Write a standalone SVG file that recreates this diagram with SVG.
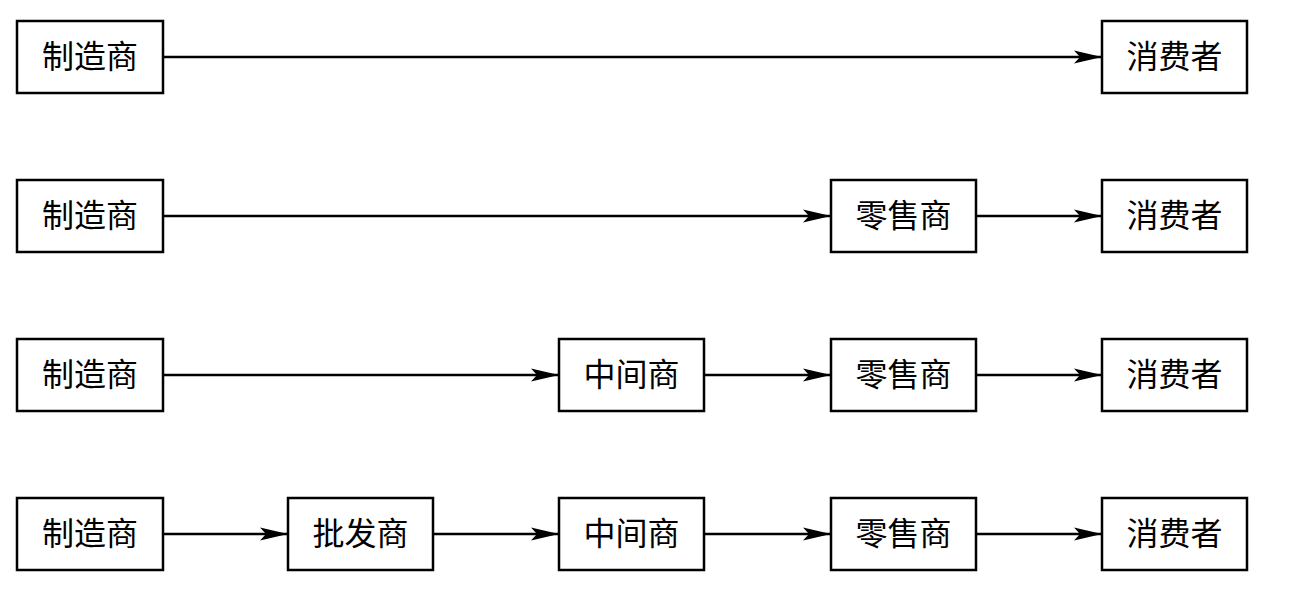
<svg xmlns="http://www.w3.org/2000/svg" width="1301" height="605" viewBox="0 0 1301 605">
<defs>
<marker id="ah" markerUnits="userSpaceOnUse" markerWidth="30" markerHeight="16" refX="28" refY="7" orient="auto" viewBox="0 0 30 14">
<path d="M0,0.5 L28,7 L0,13.5 L6,7 Z" fill="#000"/>
</marker>
<style>
.box{fill:#fff;stroke:#000;stroke-width:2.5}
.t{font-family:"Liberation Serif","Noto Sans CJK SC",serif;font-size:32px;fill:#000;text-anchor:middle;dominant-baseline:central}
.c{stroke:#000;stroke-width:2.4;fill:none;marker-end:url(#ah)}
</style>
</defs>
<g id="connectors">
<line class="c" x1="163" y1="57" x2="1102" y2="57"/>
<line class="c" x1="163" y1="216" x2="831" y2="216"/>
<line class="c" x1="976" y1="216" x2="1102" y2="216"/>
<line class="c" x1="163" y1="375" x2="559" y2="375"/>
<line class="c" x1="704" y1="375" x2="831" y2="375"/>
<line class="c" x1="976" y1="375" x2="1102" y2="375"/>
<line class="c" x1="163" y1="534" x2="288" y2="534"/>
<line class="c" x1="433" y1="534" x2="559" y2="534"/>
<line class="c" x1="704" y1="534" x2="831" y2="534"/>
<line class="c" x1="976" y1="534" x2="1102" y2="534"/>
</g>
<g id="r1-manufacturer"><rect class="box" x="17" y="21" width="146" height="72"/><text class="t" x="90" y="57">制造商</text></g>
<g id="r1-consumer"><rect class="box" x="1102" y="21" width="145" height="72"/><text class="t" x="1174.5" y="57">消费者</text></g>
<g id="r2-manufacturer"><rect class="box" x="17" y="180" width="146" height="72"/><text class="t" x="90" y="216">制造商</text></g>
<g id="r2-retailer"><rect class="box" x="831" y="180" width="145" height="72"/><text class="t" x="903.5" y="216">零售商</text></g>
<g id="r2-consumer"><rect class="box" x="1102" y="180" width="145" height="72"/><text class="t" x="1174.5" y="216">消费者</text></g>
<g id="r3-manufacturer"><rect class="box" x="17" y="339" width="146" height="72"/><text class="t" x="90" y="375">制造商</text></g>
<g id="r3-middleman"><rect class="box" x="559" y="339" width="145" height="72"/><text class="t" x="631.5" y="375">中间商</text></g>
<g id="r3-retailer"><rect class="box" x="831" y="339" width="145" height="72"/><text class="t" x="903.5" y="375">零售商</text></g>
<g id="r3-consumer"><rect class="box" x="1102" y="339" width="145" height="72"/><text class="t" x="1174.5" y="375">消费者</text></g>
<g id="r4-manufacturer"><rect class="box" x="17" y="498" width="146" height="72"/><text class="t" x="90" y="534">制造商</text></g>
<g id="r4-wholesaler"><rect class="box" x="288" y="498" width="145" height="72"/><text class="t" x="360.5" y="534">批发商</text></g>
<g id="r4-middleman"><rect class="box" x="559" y="498" width="145" height="72"/><text class="t" x="631.5" y="534">中间商</text></g>
<g id="r4-retailer"><rect class="box" x="831" y="498" width="145" height="72"/><text class="t" x="903.5" y="534">零售商</text></g>
<g id="r4-consumer"><rect class="box" x="1102" y="498" width="145" height="72"/><text class="t" x="1174.5" y="534">消费者</text></g>
</svg>
